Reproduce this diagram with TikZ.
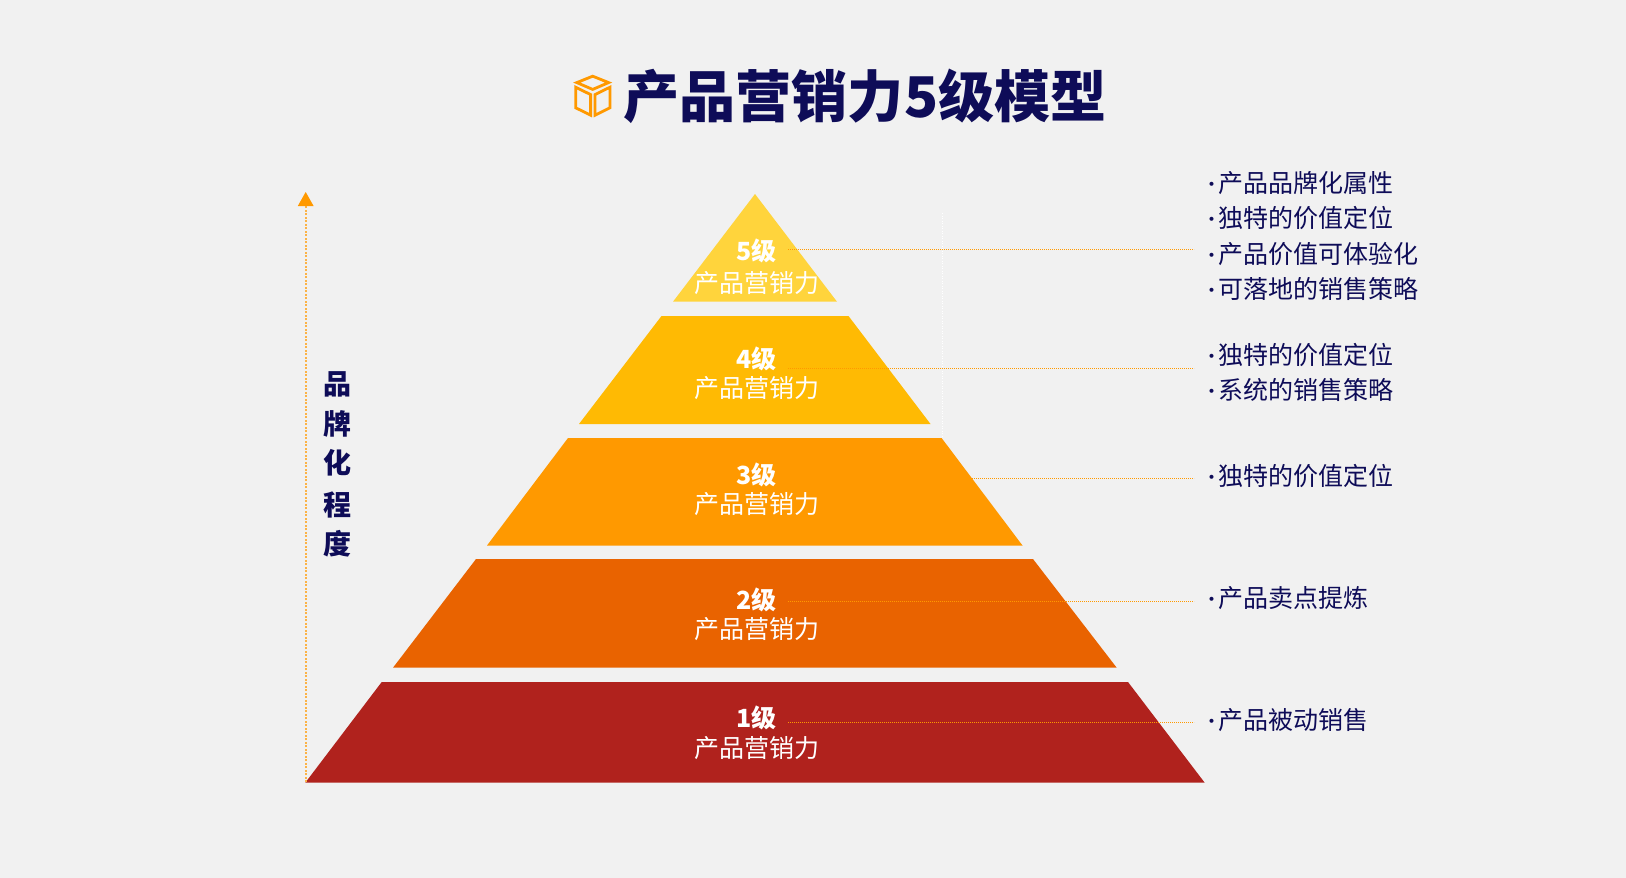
\documentclass[tikz,border=0pt]{standalone}
\usepackage{fontspec}
\setmainfont{Noto Sans CJK SC}
\definecolor{bgc}{HTML}{F1F1F1}
\definecolor{navy}{HTML}{0E0C58}
\definecolor{lvA}{HTML}{FFD43C}
\definecolor{lvB}{HTML}{FFBA03}
\definecolor{lvC}{HTML}{FF9900}
\definecolor{lvD}{HTML}{E96300}
\definecolor{lvE}{HTML}{B0221D}
\newcommand{\dotk}{\makebox[20.8pt][l]{\kern4.3pt\raisebox{1pt}{\fontsize{19}{19}\selectfont ·}}}
\tikzset{
  lvl/.style={font=\fontsize{25}{25}\selectfont\bfseries, text=white, inner sep=0pt},
  sub/.style={font=\fontsize{25}{25}\selectfont, text=white, inner sep=0pt},
  item/.style={font=\fontsize{25}{25}\selectfont, text=navy, anchor=west, inner sep=0pt},
  vert/.style={font=\fontsize{28}{28}\selectfont\bfseries, text=navy, inner sep=0pt},
  leader/.style={draw=lvC, line width=1.5pt, dash pattern=on 1.3pt off 0.7pt},
  axisline/.style={draw=lvC!70!bgc, line width=1.6pt, dash pattern=on 1.7pt off 1.8pt},
  iconline/.style={draw=lvC, line width=2.8pt, line join=miter},
}
\begin{document}
\begin{tikzpicture}[x=1pt,y=-1pt]
\useasboundingbox (0,0) rectangle (1626,878);
\fill[bgc] (0,0) rectangle (1626,878);
% pyramid
\fill[lvA] (755,194) -- (837,301.7) -- (673,301.7) -- cycle;
\fill[lvB] (661.5,316) -- (848.5,316) -- (930.5,424) -- (579,424) -- cycle;
\fill[lvC] (568,438) -- (941.6,438) -- (1022.5,545.5) -- (487,545.5) -- cycle;
\fill[lvD] (476,559) -- (1033,559) -- (1116.7,667.7) -- (393,667.7) -- cycle;
\fill[lvE] (381.7,682) -- (1128,682) -- (1204.7,782.7) -- (305.3,782.7) -- cycle;
% faint vertical
\coordinate (vt) at (942,213);
\coordinate (vb) at (942,438);
\draw[white, line width=0.8pt, dash pattern=on 1pt off 1.5pt] (vt) -- (vb);
% leaders
\foreach \n/\y in {a/249.5,b/368.5,c/478.5,d/601.5,e/722.5}{
  \coordinate (s\n) at (788,\y);
  \coordinate (t\n) at (1194,\y);
  \draw[leader] (s\n) -- (t\n);
}
% axis
\coordinate (axb) at (305.7,782);
\coordinate (axt) at (305.7,206);
\coordinate (axp) at (305.7,192);
\draw[axisline] (axb) -- (axt);
\fill[lvC] (axp) -- (313.6,206) -- (297.8,206) -- cycle;
% icon
\draw[iconline] (592.7,76.2) -- (608.6,82.6) -- (592.7,89.4) -- (576.8,82.6) -- cycle;
\draw[iconline] (575.7,87.2) -- (590.6,94.6) -- (590.6,115.2) -- (575.7,107.8) -- cycle;
\draw[iconline] (610,87.2) -- (595,94.6) -- (595,115.2) -- (610,107.8) -- cycle;
% title
\node[font=\fontsize{56.1}{56}\selectfont\bfseries, text=navy, anchor=west, inner sep=0pt] (title) at (623.3,96.5) {产品营销力5级模型};
% vertical label
\node[vert] (v1) at (337.5,384.5) {品};
\node[vert] (v2) at (337.5,423.5) {牌};
\node[vert] (v3) at (337.5,463) {化};
\node[vert] (v4) at (337.5,504.5) {程};
\node[vert] (v5) at (337.5,544) {度};
% level labels
\node[lvl] (l5) at (756.5,251) {5级};
\node[sub] (p5) at (756.5,283) {产品营销力};
\node[lvl] (l4) at (756.5,359) {4级};
\node[sub] (p4) at (756.5,388.5) {产品营销力};
\node[lvl] (l3) at (756.5,475) {3级};
\node[sub] (p3) at (756.5,504.5) {产品营销力};
\node[lvl] (l2) at (756.5,600) {2级};
\node[sub] (p2) at (756.5,629.5) {产品营销力};
\node[lvl] (l1) at (756.5,717.6) {1级};
\node[sub] (p1) at (756.5,747.7) {产品营销力};
% lists
\node[item] (i1) at (1197.7,183.5) {\dotk 产品品牌化属性};
\node[item] (i2) at (1197.7,218) {\dotk 独特的价值定位};
\node[item] (i3) at (1197.7,254) {\dotk 产品价值可体验化};
\node[item] (i4) at (1197.7,289) {\dotk 可落地的销售策略};
\node[item] (i5) at (1197.7,355) {\dotk 独特的价值定位};
\node[item] (i6) at (1197.7,390) {\dotk 系统的销售策略};
\node[item] (i7) at (1197.7,476) {\dotk 独特的价值定位};
\node[item] (i8) at (1197.7,598) {\dotk 产品卖点提炼};
\node[item] (i9) at (1197.7,720) {\dotk 产品被动销售};
\end{tikzpicture}
\end{document}
